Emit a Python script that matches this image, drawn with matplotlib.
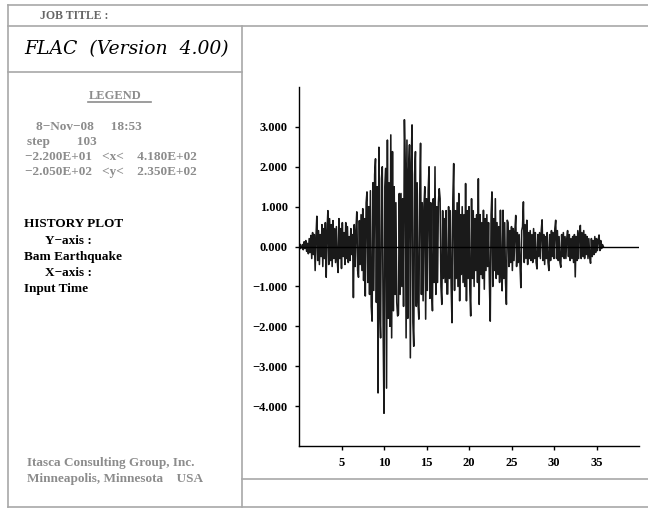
import numpy as np
import matplotlib.pyplot as plt
from matplotlib.lines import Line2D

# Bam earthquake input history at 0.1 s spacing
accel = [
    0.00, 0.06, -0.05,
    0.00, 0.05, -0.08, 0.12, -0.05, 0.15, -0.12, 0.08, -0.18, 0.20,
    -0.15, 0.28, -0.30, 0.35, -0.20, 0.30, -0.60, 0.25, 0.76, -0.35,
    0.40, -0.45, 0.30, -0.25, 0.55, -0.50, 0.45, -0.30, 0.60, -0.77,
    0.40, 0.90, -0.45, 0.70, -0.35, 0.55, -0.50, 0.65, -0.30, 0.45,
    -0.40, 0.50, -0.35, -0.65, 0.70, -0.30, 0.45, -0.55, 0.60, -0.25,
    0.35, -0.45, 0.60, -0.30, 0.50, -0.40, 0.25, -0.35, 0.45, -0.20,
    0.30, -1.28, 0.55, -0.50, 0.40, 0.87, -0.60, -0.77, 0.65, -0.45,
    0.80, -0.60, 0.95, -0.85, 0.70, -1.24, 1.10, 1.37, -0.90, 1.00,
    -1.20, 1.40, -1.50, -1.87, 1.60, -1.10, 1.80, 2.20, -1.40, 1.50,
    -3.67, 2.49, -1.60, -2.29, 1.70, 2.00, -2.10, -4.18, 1.50, 1.96,
    -3.55, 2.67, -1.80, 1.60, -2.00, 2.80, -2.29, 2.38, -1.61, 1.50,
    -1.20, 1.10, -1.40, -1.74, -1.70, 1.33, -1.20, 1.33, -1.00, 1.20,
    -1.50, 3.18, 2.08, -2.29, 2.67, -1.80, 1.90, 2.55, -2.79, 2.10,
    3.05, -1.90, -2.50, 1.80, 2.38, -1.50, 1.60, -1.40, -1.82, 1.30,
    2.59, -1.20, 1.10, -1.36, 1.00, 1.50, -1.82, 1.20, -1.10, 1.40,
    2.00, -1.30, 1.10, -1.00, -1.61, 1.20, -0.90, 2.00, -1.20, 1.00,
    -0.90, 1.10, 1.45, 1.20, -1.00, -1.45, 0.90, -0.80, 0.70, -0.90,
    0.90, -1.19, -1.19, 1.00, -0.80, 0.90, -1.00, -1.91, 1.20, 2.08,
    -1.10, 0.90, -0.80, 1.10, -1.00, 1.33, -1.36, 0.80, -0.70, 1.00,
    -0.90, 0.80, -1.00, 1.58, -1.36, 0.90, -0.80, 1.00, -1.10, -1.74,
    1.20, -0.80, 0.90, -1.00, 0.70, -0.60, 0.80, -0.90, 1.70, -1.45,
    0.80, -0.70, 0.60, -0.80, 0.91, -1.07, 0.70, -0.60, 0.80, -0.50,
    0.60, -0.90, -1.87, 0.80, 1.37, -1.00, 0.70, -0.60, 1.20, -0.80,
    0.60, -0.70, 0.50, -0.90, 0.91, -0.60, -1.11, 0.91, -0.80, 0.60,
    -0.90, -1.45, 0.66, 0.60, -0.50, 0.40, -0.40, 0.50, -0.60, 0.45,
    -0.35, 0.40, 0.78, -0.50, 0.35, -0.40, 0.30, -0.45, -1.03, 0.40,
    0.50, 1.12, -0.40, 0.55, -0.30, 0.66, -0.45, 0.35, -0.30, 0.40,
    -0.35, 0.30, -0.40, 0.45, -0.30, 0.35, -0.40, -0.56, 0.30, -0.25,
    0.35, -0.30, 0.40, 0.67, -0.35, 0.30, -0.45, 0.25, -0.30, 0.35,
    -0.40, -0.60, 0.30, -0.35, 0.40, -0.25, 0.35, -0.30, 0.45, 0.66,
    -0.30, 0.40, -0.35, 0.25, -0.40, -0.52, 0.30, -0.25, 0.35, -0.30,
    0.25, -0.30, 0.20, 0.40, -0.25, 0.30, -0.35, 0.20, -0.30, 0.25,
    -0.40, 0.30, -0.76, 0.25, -0.35, 0.40, -0.30, 0.35, 0.53, -0.30,
    0.35, -0.25, 0.40, -0.30, 0.30, -0.20, 0.25, -0.30, 0.20, -0.25,
    -0.42, 0.20, -0.25, 0.15, -0.20, 0.25, -0.15, 0.20, -0.10, 0.15,
    0.29, -0.10, 0.15, -0.05, 0.05, 0.00,
]
dt = 0.1
t = np.arange(len(accel)) * dt

xticks = [5, 10, 15, 20, 25, 30, 35]
yticks = [-4, -3, -2, -1, 0, 1, 2, 3]

W, H = 648, 508
serif = 'Liberation Serif'
gray = '#8c8c8c'
frame = '#a8a8a8'

fig = plt.figure(figsize=(W / 100, H / 100), dpi=100)

def px_line(x0, y0, x1, y1, color=frame):
    fig.add_artist(Line2D([x0 / W, x1 / W], [1 - y0 / H, 1 - y1 / H],
                          color=color, lw=1.2, transform=fig.transFigure))

def px_text(x, y, s, color='black', size=9.5, **kw):
    fig.text(x / W, 1 - y / H, s, color=color, fontsize=size, va='center',
             ha='left', family=serif, weight='bold', **kw)

# frame boxes
px_line(8, 5, 648, 5)
px_line(8, 26, 648, 26)
px_line(8, 5, 8, 507)
px_line(8, 507, 648, 507)
px_line(242, 26, 242, 507)
px_line(8, 72, 242, 72)
px_line(242, 479, 648, 479)

px_text(40, 16, 'JOB TITLE :', color='#666666', size=8.5)
fig.text(24 / W, 1 - 49 / H, 'FLAC  (Version  4.00)', fontsize=13.5,
         family='DejaVu Serif', style='italic', va='center', ha='left')

px_text(89, 96, 'LEGEND', color=gray, size=9)
px_line(88, 102, 151, 102, color=gray)
px_text(36, 127, '8\u2212Nov\u221208     18:53', color=gray)
px_text(27, 142, 'step        103', color=gray)
px_text(25, 157, '\u22122.200E+01   <x<    4.180E+02', color=gray)
px_text(25, 172, '\u22122.050E+02   <y<    2.350E+02', color=gray)

px_text(24, 224, 'HISTORY PLOT')
px_text(45, 241, 'Y\u2212axis :')
px_text(24, 257, 'Bam Earthquake')
px_text(45, 273, 'X\u2212axis :')
px_text(24, 289, 'Input Time')

px_text(27, 463, 'Itasca Consulting Group, Inc.', color=gray)
px_text(27, 479, 'Minneapolis, Minnesota    USA', color=gray)

# history plot
ax = fig.add_axes([299 / W, 1 - 446 / H, 340 / W, 359 / H])
ax.plot(t, accel, color='#1a1a1a', lw=1.15)
ax.plot([0, 40], [0, 0], color='black', lw=1.0)
ax.set_xlim(0, 40)
ax.set_ylim(-5, 4)
ax.set_xticks(xticks)
ax.set_xticklabels([str(v) for v in xticks])
ax.set_yticks(yticks)
ax.set_yticklabels([('%.3f' % v).replace('-', '\u2212') for v in yticks])
for s in ['top', 'right']:
    ax.spines[s].set_visible(False)
for s in ['left', 'bottom']:
    ax.spines[s].set_linewidth(1.0)
ax.tick_params(direction='out', length=3, width=1, pad=5)
for lab in ax.get_xticklabels() + ax.get_yticklabels():
    lab.set_family(serif)
    lab.set_weight('bold')
    lab.set_fontsize(9)

fig.savefig('out.png', dpi=100)
